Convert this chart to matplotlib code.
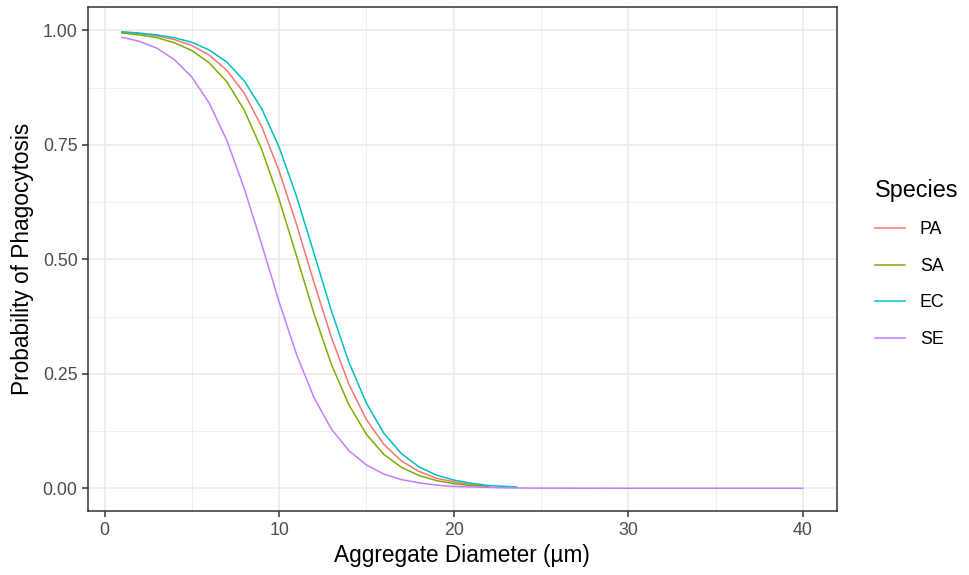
import numpy as np
import matplotlib.pyplot as plt
from matplotlib.ticker import MultipleLocator

# valores
x_pa = [1, 2, 3, 4, 5, 6, 7, 8, 9, 10, 11, 12, 13, 14, 15, 16, 17, 18, 19, 20, 21, 22]
y_pa = [0.996, 0.993, 0.988, 0.980, 0.967, 0.946, 0.913, 0.863, 0.790, 0.693, 0.576, 0.449,
        0.329, 0.227, 0.150, 0.096, 0.060, 0.037, 0.022, 0.014, 0.008, 0.005]

x_sa = [1, 2, 3, 4, 5, 6, 7, 8, 9, 10, 11, 12, 13, 14, 15, 16, 17, 18, 19, 20, 21, 22]
y_sa = [0.994, 0.990, 0.984, 0.973, 0.956, 0.929, 0.888, 0.826, 0.740, 0.631, 0.507, 0.381,
        0.270, 0.182, 0.118, 0.074, 0.046, 0.028, 0.017, 0.010, 0.006, 0.004]

x_ec = [1, 2, 3, 4, 5, 6, 7, 8, 9, 10, 11, 12, 13, 14, 15, 16, 17, 18, 19, 20, 21, 22, 23, 23.6]
y_ec = [0.997, 0.994, 0.990, 0.984, 0.974, 0.957, 0.931, 0.890, 0.829, 0.745, 0.637, 0.513,
        0.387, 0.275, 0.186, 0.120, 0.076, 0.047, 0.029, 0.018, 0.011, 0.006, 0.004, 0.003]

x_se = [1, 2, 3, 4, 5, 6, 7, 8, 9, 10, 11, 12, 13, 14, 15, 16, 17, 18, 19, 20,
        21, 22, 23, 24, 25, 30, 35, 40]
y_se = [0.985, 0.976, 0.961, 0.936, 0.898, 0.841, 0.760, 0.655, 0.533, 0.407, 0.292, 0.198,
        0.129, 0.082, 0.051, 0.031, 0.019, 0.012, 0.007, 0.004, 0.003, 0.002, 0.001, 0.0005,
        0.0003, 0.0, 0.0, 0.0]

especies = ['PA', 'SA', 'EC', 'SE']
cores = ['#F8766D', '#7CAE00', '#00BFC4', '#C77CFF']

plt.rcParams['font.family'] = ['Liberation Sans', 'DejaVu Sans']

fig = plt.figure(figsize=(9.7, 5.75), dpi=100)
ax = fig.add_axes([0.0907, 0.111, 0.772, 0.876])

dados = [(x_pa, y_pa), (x_sa, y_sa), (x_ec, y_ec), (x_se, y_se)]
for (xs, ys), nome, cor in zip(dados, especies, cores):
    ax.plot(xs, ys, color=cor, linewidth=1.1, label=nome)

ax.set_xlim(-0.95, 41.95)
ax.set_ylim(-0.05, 1.05)
ax.xaxis.set_major_locator(MultipleLocator(10))
ax.xaxis.set_minor_locator(MultipleLocator(5))
ax.yaxis.set_major_locator(MultipleLocator(0.25))
ax.yaxis.set_minor_locator(MultipleLocator(0.125))
ax.yaxis.set_major_formatter(plt.FuncFormatter(lambda v, p: '%.2f' % v))

ax.grid(which='major', color='#EBEBEB', linewidth=1.2)
ax.grid(which='minor', color='#EBEBEB', linewidth=0.6)
ax.set_axisbelow(True)
for s in ax.spines.values():
    s.set_color('#333333')
    s.set_linewidth(1.1)
ax.tick_params(which='major', length=4, width=1.1, color='#333333',
               labelsize=12.8, labelcolor='#4D4D4D')
ax.tick_params(which='minor', length=0)

ax.set_xlabel('Aggregate Diameter (µm)', fontsize=16.3, color='black', labelpad=4)
ax.set_ylabel('Probability of Phagocytosis', fontsize=16.3, color='black', labelpad=6)

leg = ax.legend(title='Species', loc='center left', bbox_to_anchor=(1.029, 0.492),
                frameon=False, fontsize=12.8, title_fontsize=16.8,
                handlelength=1.7, handletextpad=0.85, labelspacing=1.1)
leg._legend_box.align = 'left'

fig.savefig('out.png', dpi=100)
